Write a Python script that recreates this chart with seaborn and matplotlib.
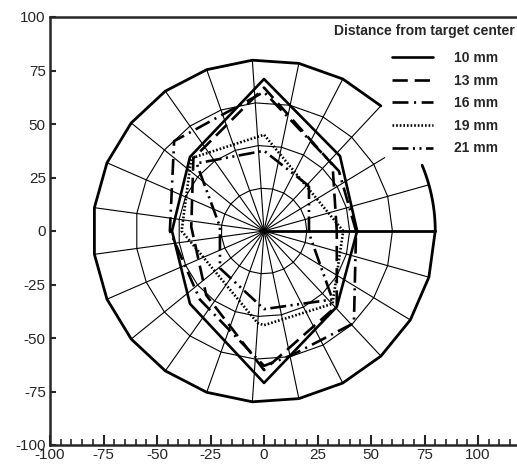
import matplotlib
matplotlib.use("Agg")
import matplotlib.pyplot as plt
import numpy as np
import seaborn as sns
from matplotlib.ticker import MultipleLocator

# polygon vertices (x, y) of each curve
labels = ["10 mm", "13 mm", "16 mm", "19 mm", "21 mm"]
x_10 = [43.5, 35.5, 0, -34.6, -43, -34.6, 0, 34, 43.5]
y_10 = [0, 35, 71, 34.6, 0, -34, -71, -35.4, 0]
x_13 = [34, 32, 0, -33, -34, -27, 0, 34, 34]
y_13 = [0, 31, 67, 34, 2, -30, -65, -35, 0]
x_16 = [43, 35, 0, -42, -44, -30, 0, 13, 42, 43]
y_16 = [0, 28, 65, 42, 0, -32, -63, -58, -43, 0]
x_19 = [37, 0, -34, -38.5, -3, 0, 32, 37]
y_19 = [0, 45, 34, 0, -43, -44, -34, 0]
x_21 = [21, 0, -31.5, -20.6, -20.6, 0, 32, 21, 21]
y_21 = [21, 37.5, 31.6, 2, -17.4, -36.5, -32, -1, 21]

# polar mesh in the background
n_div = 23
ring_radii = [20, 40, 60]
outer_radius = 80
spoke_len = [80, 80, 66] + [80] * 20
arc_end_deg = 22.6

styles = [
    "-",
    (0, (11, 5)),
    (0, (11.5, 4, 1.5, 4)),
    (0, (1.2, 1.4)),
    (0, (11.5, 3.2, 1.5, 3.2, 1.5, 3.2)),
]


def draw_mesh(ax):
    theta = np.linspace(0, 2 * np.pi, n_div + 1)
    for r in ring_radii:
        ax.plot(r * np.cos(theta), r * np.sin(theta), color="black", lw=0.8)
    for t, L in zip(theta[:-1], spoke_len):
        lw = 2.0 if t == 0 else 0.8
        ax.plot([0, L * np.cos(t)], [0, L * np.sin(t)], color="black", lw=lw)
    outer = theta[3:]
    ax.plot(outer_radius * np.cos(outer), outer_radius * np.sin(outer),
            color="black", lw=2.0)
    arc = np.linspace(0, np.deg2rad(arc_end_deg), 20)
    ax.plot(outer_radius * np.cos(arc), outer_radius * np.sin(arc),
            color="black", lw=2.0)


def main():
    sns.set_style("ticks")
    plt.rcParams["font.family"] = ["Liberation Sans", "DejaVu Sans"]
    plt.rcParams["lines.scale_dashes"] = False
    plt.rcParams["axes.unicode_minus"] = False

    fig = plt.figure(figsize=(5.17, 4.66), dpi=100)
    ax = fig.add_axes([50 / 517, 21 / 466, 467 / 517, 428 / 466])

    draw_mesh(ax)

    series = [(x_10, y_10), (x_13, y_13), (x_16, y_16), (x_19, y_19), (x_21, y_21)]
    for (xs, ys), lab, ls in zip(series, labels, styles):
        sns.lineplot(x=xs, y=ys, sort=False, estimator=None, color="black",
                     linestyle=ls, lw=1.9, label=lab, ax=ax)

    ax.set_xlim(-100, 118.2)
    ax.set_ylim(-100, 100)
    ax.xaxis.set_major_locator(MultipleLocator(25))
    ax.xaxis.set_minor_locator(MultipleLocator(5))
    ax.yaxis.set_major_locator(MultipleLocator(25))
    ax.tick_params(axis="x", which="major", direction="in", length=7, width=1.5,
                   labelsize=11, pad=2)
    ax.tick_params(axis="x", which="minor", direction="in", length=4, width=1.2)
    ax.tick_params(axis="y", which="major", direction="in", length=4.5, width=1.5,
                   labelsize=11, pad=3)
    for side in ["left", "bottom", "top"]:
        ax.spines[side].set_linewidth(1.8)
    ax.spines["right"].set_visible(False)

    ax.legend(loc="upper left", bbox_to_anchor=((392 - 50) / 467, 1 - 34 / 428),
              frameon=False, handlelength=2.95, handletextpad=1.55,
              labelspacing=0.62, borderpad=0, borderaxespad=0,
              prop={"weight": "bold", "size": 10})
    ax.text(1 - 2 / 467, 1 - 7 / 428, "Distance from target center",
            transform=ax.transAxes, ha="right", va="top",
            fontsize=10, fontweight="bold")

    fig.savefig("out.png", dpi=100)


if __name__ == "__main__":
    main()
